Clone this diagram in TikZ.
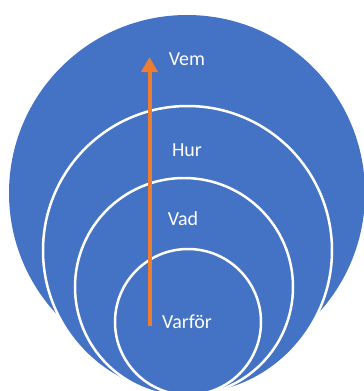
\documentclass[tikz,border=0pt]{standalone}
\usepackage{fontspec}
\setmainfont{Carlito}
\usetikzlibrary{arrows.meta}
\definecolor{ringblue}{HTML}{4472C4}
\definecolor{arroworange}{HTML}{ED7D31}
\begin{document}
\begin{tikzpicture}[x=1bp, y=-1bp,
  ring/.style={circle, inner sep=0pt, minimum size=#1, fill=ringblue,
               draw=white, line width=2.5bp},
  lbl/.style={text=white, font=\fontsize{20}{24}\selectfont},
  growth/.style={draw=arroworange, line width=4bp,
                 -{Triangle[width=16bp, length=15bp]}}
]
  \useasboundingbox (0,0) rectangle (364,391);
  \clip (0,0) rectangle (364,391);
  \node[ring=356bp, draw=none] (vem)    at (187,193) {};
  \node[ring=289bp]            (hur)    at (187.5,250.5) {};
  \node[ring=218bp]            (vad)    at (184,287) {};
  \node[ring=146bp]            (varfor) at (188,322) {};
  \node[lbl] (tvem)    at (187,59)  {Vem};
  \node[lbl] (thur)    at (187,150) {Hur};
  \node[lbl] (tvad)    at (183,219) {Vad};
  \node[lbl] (tvarfor) at (187,322) {Varför};
  \coordinate (from) at (149.5,326);
  \coordinate (to)   at (149.5,57);
  \draw[growth] (from) -- (to);
\end{tikzpicture}
\end{document}
